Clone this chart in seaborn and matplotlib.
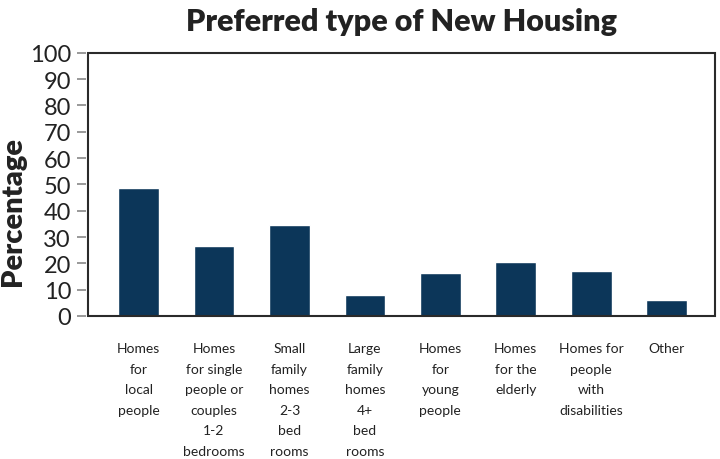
import matplotlib
matplotlib.use("Agg")
import matplotlib.pyplot as plt
import seaborn as sns
import pandas as pd
from matplotlib.patches import Rectangle

sns.set_theme(style="white")
plt.rcParams['font.family'] = ['Lato', 'DejaVu Sans']

# Data
categories = [
    "Homes\nfor\nlocal\npeople",
    "Homes\nfor single\npeople or\ncouples\n1-2\nbedrooms",
    "Small\nfamily\nhomes\n2-3\nbed\nrooms",
    "Large\nfamily\nhomes\n4+\nbed\nrooms",
    "Homes\nfor\nyoung\npeople",
    "Homes\nfor the\nelderly",
    "Homes for\npeople\nwith\ndisabilities",
    "Other",
]
percentages = [48.6, 26.4, 34.4, 7.9, 16.2, 20.4, 17.0, 6.0]
y_ticks = list(range(0, 101, 10))

df = pd.DataFrame({'type': categories, 'pct': percentages})

fig = plt.figure(figsize=(7.2, 4.6), dpi=100)
ax = fig.add_axes([0.1222, 0.311, 0.8708, 0.572])

sns.barplot(data=df, x='type', y='pct', color='#0c3659', saturation=1,
            width=0.54, ax=ax)

ax.set_xlim(-0.67, 7.64)
ax.set_ylim(0, 100)
ax.set_yticks(y_ticks)
ax.set_xlabel('')
ax.set_ylabel('')

# frame drawn as a box, ticks sit just outside it
for s in ax.spines.values():
    s.set_visible(False)
ax.add_patch(Rectangle((0, 0), 1, 1, transform=ax.transAxes, fill=False,
                       edgecolor='#2a2a2a', linewidth=1.5, clip_on=False, zorder=5))
ax.spines['left'].set_position(('outward', 1.2))

ax.tick_params(axis='y', left=True, length=6.5, width=1.2, color='#888888',
               pad=4.5, labelsize=17, labelcolor='#222222')
ax.tick_params(axis='x', bottom=False, length=0, pad=19, labelsize=10,
               labelcolor='#222222')
for lab in ax.get_xticklabels():
    lab.set_linespacing(1.85)
    lab.set_verticalalignment('top')
    lab.set_multialignment('center')

fig.text(0.557, 0.952, 'Preferred type of New Housing', ha='center', va='center',
         fontsize=22, fontweight='heavy', color='#222222')
fig.text(0.018, 0.541, 'Percentage', rotation=90, ha='center', va='center',
         fontsize=21, fontweight='heavy', color='#222222')

fig.savefig('out.png', dpi=100)
